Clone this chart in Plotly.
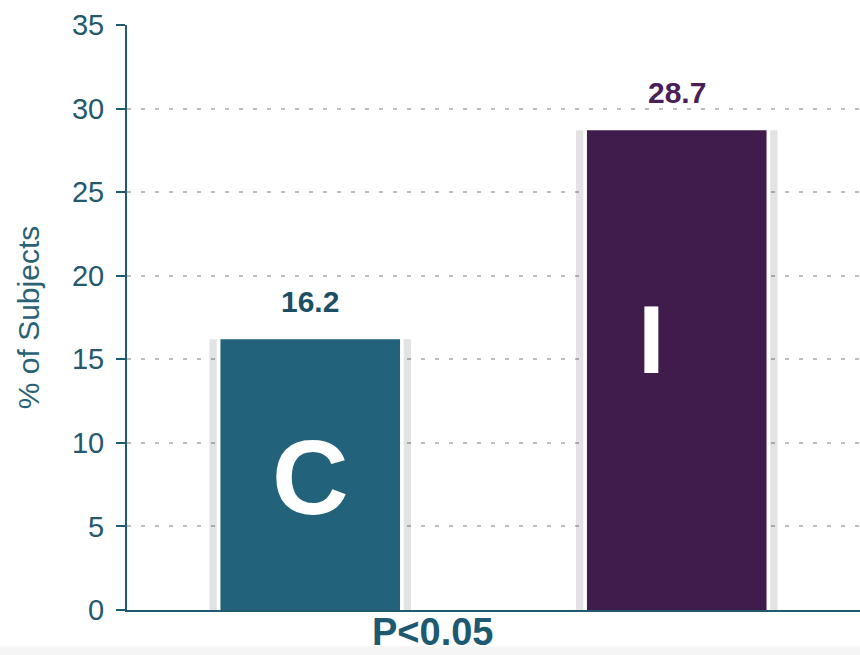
import plotly.graph_objects as go

categories = ["C", "I"]
values = [16.2, 28.7]
value_labels = ["16.2", "28.7"]
bar_colors = ["#22637b", "#401c4d"]
label_colors = ["#1d4f63", "#4a1f57"]
y_ticks = [0, 5, 10, 15, 20, 25, 30, 35]
p_text = "P<0.05"

FONT = "Liberation Sans, Arial, sans-serif"
AXIS_COLOR = "#1f5a6e"

fig = go.Figure()

# soft shadow behind bars
fig.add_trace(go.Bar(x=categories, y=values, width=0.55,
                     marker=dict(color="rgba(0,0,0,0.11)", line=dict(width=0)),
                     hoverinfo="skip", showlegend=False))
# white gap between shadow and bar
fig.add_trace(go.Bar(x=categories, y=values, width=0.51,
                     marker=dict(color="white", line=dict(width=0)),
                     hoverinfo="skip", showlegend=False))
# main bars
fig.add_trace(go.Bar(x=categories, y=values, width=0.49,
                     marker=dict(color=bar_colors, line=dict(width=0)),
                     showlegend=False))

# value labels above bars
for i, (v, t, c) in enumerate(zip(values, value_labels, label_colors)):
    fig.add_annotation(x=i, y=v, text=f"<b>{t}</b>", showarrow=False,
                       yshift=38, font=dict(family=FONT, size=30, color=c))

# big letters inside bars
fig.add_annotation(x=0, y=7.95, text="<b>C</b>", showarrow=False,
                   font=dict(family=FONT, size=106, color="white"))
fig.add_annotation(x=0.93, y=16.2, text="<b>I</b>", showarrow=False,
                   font=dict(family=FONT, size=96, color="white"))

# P-value
fig.add_annotation(x=(433 - 127) / 733, xref="paper", y=-0.038, yref="paper",
                   yanchor="middle", text=f"<b>{p_text}</b>", showarrow=False,
                   font=dict(family=FONT, size=38, color="#1d5a72"))

# light gray strip at bottom
fig.add_shape(type="rect", xref="paper", yref="paper",
              x0=-0.2, x1=1.0, y0=-0.062, y1=-0.2,
              fillcolor="#f5f5f5", line=dict(width=0), layer="below")

fig.update_layout(
    width=860, height=655,
    margin=dict(l=127, r=0, t=25, b=45),
    paper_bgcolor="white", plot_bgcolor="white",
    barmode="overlay",
    font=dict(family=FONT, color=AXIS_COLOR),
    xaxis=dict(range=[-0.5, 1.5], showticklabels=False, ticks="",
               showline=True, linecolor=AXIS_COLOR, linewidth=2,
               showgrid=False, zeroline=False, fixedrange=True),
    yaxis=dict(range=[0, 35], tickvals=y_ticks,
               ticks="outside", ticklen=9, tickwidth=2, tickcolor=AXIS_COLOR,
               ticklabelstandoff=6,
               showline=True, linecolor=AXIS_COLOR, linewidth=2,
               showgrid=True, gridcolor="#bdbdbd", gridwidth=1.5,
               griddash="4px,10px", zeroline=False,
               tickfont=dict(family=FONT, size=29, color="#24586b"),
               title=dict(text="% of Subjects", standoff=23,
                          font=dict(family=FONT, size=30, color="#2a6275"))),
)

fig.write_html("out.html")
